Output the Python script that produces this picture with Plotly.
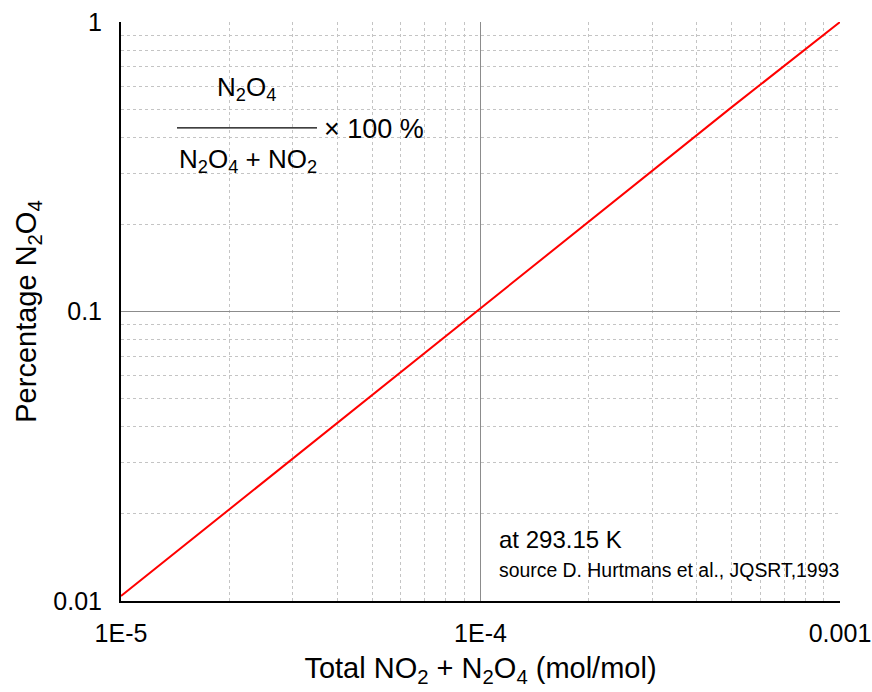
import plotly.graph_objects as go

# Data
total_mixing_ratio = [1e-5, 2e-5, 5e-5, 1e-4, 2e-4, 5e-4, 1e-3]
percentage_n2o4 = [0.0104, 0.0207, 0.0516, 0.103, 0.205, 0.508, 1.0]

x_tick_vals = [1e-5, 1e-4, 1e-3]
x_tick_text = ["1E-5", "1E-4", "0.001"]
y_tick_vals = [0.01, 0.1, 1]
y_tick_text = ["0.01", "0.1", "1"]

FONT = "Liberation Sans, Arial, sans-serif"

fig = go.Figure()
fig.add_trace(go.Scatter(
    x=total_mixing_ratio, y=percentage_n2o4, mode="lines",
    line=dict(color="#ff0000", width=2), showlegend=False, hoverinfo="skip"))

axis_common = dict(
    type="log", showline=True, linecolor="black", linewidth=2,
    showgrid=True, gridcolor="#8c8c8c", gridwidth=1, zeroline=False,
    automargin=False,
    ticks="", tickfont=dict(family=FONT, size=25, color="black"),
    minor=dict(dtick="D1", showgrid=True, gridcolor="#c4c4c4",
               griddash="dot", gridwidth=1, ticks=""),
)

fig.update_xaxes(**axis_common, range=[-5, -3], tickvals=x_tick_vals,
                 ticktext=x_tick_text, ticklabelstandoff=9,
                 title=dict(text="Total NO<sub>2</sub> + N<sub>2</sub>O<sub>4</sub> (mol/mol)",
                            font=dict(family=FONT, size=29, color="black"), standoff=12))
fig.update_yaxes(**axis_common, range=[-2, 0], tickvals=y_tick_vals,
                 ticktext=y_tick_text, ticklabelstandoff=12,
                 title=dict(text="Percentage N<sub>2</sub>O<sub>4</sub>",
                            font=dict(family=FONT, size=29, color="black"), standoff=8))

shapes = [
    dict(type="rect", xref="paper", yref="paper", x0=0.0737, x1=0.427, y0=0.646, y1=0.929,
         fillcolor="white", line=dict(width=0), layer="between"),
    dict(type="rect", xref="paper", yref="paper", x0=0.51, x1=1.0, y0=0.0138, y1=0.145,
         fillcolor="white", line=dict(width=0), layer="between"),
    dict(type="line", xref="paper", yref="paper", x0=0.0779, x1=0.2726, y0=0.817, y1=0.817,
         line=dict(color="black", width=1.2)),
]

ann_font = dict(family=FONT, size=26, color="black")
annotations = [
    dict(text="N<sub>2</sub>O<sub>4</sub>", x=0.174, y=0.886, xref="paper", yref="paper",
         showarrow=False, xanchor="center", yanchor="middle", font=ann_font),
    dict(text="× 100 %", x=0.2796, y=0.815, xref="paper", yref="paper",
         showarrow=False, xanchor="left", yanchor="middle", font=dict(family=FONT, size=27, color="black")),
    dict(text="N<sub>2</sub>O<sub>4</sub> + NO<sub>2</sub>", x=0.176, y=0.760, xref="paper", yref="paper",
         showarrow=False, xanchor="center", yanchor="middle", font=ann_font),
    dict(text="at 293.15 K", x=0.523, y=0.1054, xref="paper", yref="paper",
         showarrow=False, xanchor="left", yanchor="middle",
         font=dict(family=FONT, size=24, color="black")),
    dict(text="source D. Hurtmans et al., JQSRT,1993", x=0.523, y=0.0535, xref="paper", yref="paper",
         showarrow=False, xanchor="left", yanchor="middle",
         font=dict(family=FONT, size=19.4, color="black")),
]

fig.update_layout(
    width=872, height=692,
    margin=dict(l=121, r=32, t=22, b=91),
    paper_bgcolor="white", plot_bgcolor="white",
    shapes=shapes, annotations=annotations,
    font=dict(family=FONT, color="black"),
)

fig.write_html("out.html")
